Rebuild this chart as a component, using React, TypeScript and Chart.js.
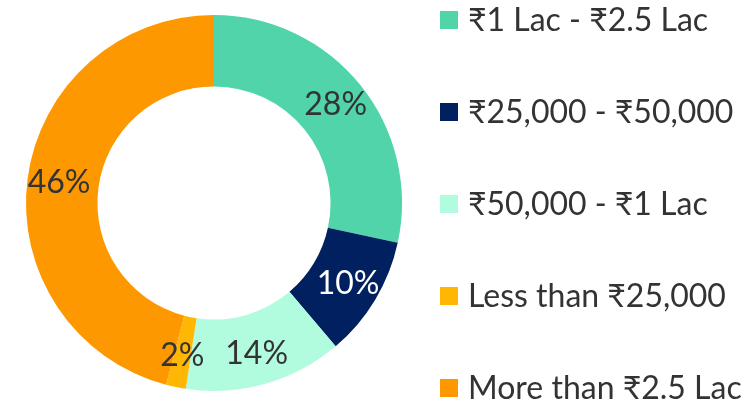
import React, { useEffect, useRef } from "react";
import { Chart, registerables } from "chart.js";

Chart.register(...registerables);

const categories = [
  "₹1 Lac - ₹2.5 Lac",
  "₹25,000 - ₹50,000",
  "₹50,000 - ₹1 Lac",
  "Less than ₹25,000",
  "More than ₹2.5 Lac",
];
const shares = [28.4, 10.4, 13.6, 1.7, 45.9];
const sliceLabels = ["28%", "10%", "14%", "2%", "46%"];
const colors = ["#51d4aa", "#012060", "#b1fcdf", "#ffb703", "#fe9800"];
const labelColors = ["#333333", "#ffffff", "#333333", "#333333", "#333333"];

const FONT = "Lato, 'Noto Sans', sans-serif";

const sliceLabelPlugin = {
  id: "sliceLabels",
  afterDatasetsDraw(chart: any) {
    const ctx = chart.ctx;
    const meta = chart.getDatasetMeta(0);
    ctx.save();
    ctx.font = `32px ${FONT}`;
    ctx.textAlign = "center";
    ctx.textBaseline = "middle";
    meta.data.forEach((arc: any, i: number) => {
      const { x, y, startAngle, endAngle, innerRadius, outerRadius } = arc.getProps(
        ["x", "y", "startAngle", "endAngle", "innerRadius", "outerRadius"],
        true
      );
      const mid = (startAngle + endAngle) / 2;
      const r = (innerRadius + outerRadius) / 2 + 4;
      ctx.fillStyle = labelColors[i];
      ctx.fillText(sliceLabels[i], x + Math.cos(mid) * r, y + Math.sin(mid) * r);
    });
    ctx.restore();
  },
};

const legendPlugin = {
  id: "sideLegend",
  afterDraw(chart: any) {
    const ctx = chart.ctx;
    const labels = chart.data.labels as string[];
    const bg = chart.data.datasets[0].backgroundColor as string[];
    ctx.save();
    ctx.font = `32px ${FONT}`;
    ctx.textAlign = "left";
    ctx.textBaseline = "middle";
    labels.forEach((lab, i) => {
      const cy = 20 + i * 92;
      ctx.fillStyle = bg[i];
      ctx.fillRect(440, cy - 9, 18, 18);
      ctx.fillStyle = "#333333";
      ctx.fillText(lab, 468, cy + 1);
    });
    ctx.restore();
  },
};

export default function App() {
  const ref = useRef<HTMLCanvasElement | null>(null);
  useEffect(() => {
    document.body.style.margin = "0";
    if (!ref.current) return;
    const chart = new Chart(ref.current, {
      type: "doughnut",
      data: {
        labels: categories,
        datasets: [
          {
            data: shares,
            backgroundColor: colors,
            borderWidth: 0,
          },
        ],
      },
      options: {
        animation: false,
        responsive: false,
        cutout: "62%",
        layout: { padding: { left: 26, right: 343, top: 15, bottom: 13 } },
        plugins: {
          legend: { display: false },
          tooltip: { enabled: false },
        },
      },
      plugins: [sliceLabelPlugin, legendPlugin],
    });
    return () => chart.destroy();
  }, []);
  return (
    <div style={{ width: 745, height: 404, position: "relative" }}>
      <canvas ref={ref} width={745} height={404} style={{ display: "block" }} />
    </div>
  );
}
